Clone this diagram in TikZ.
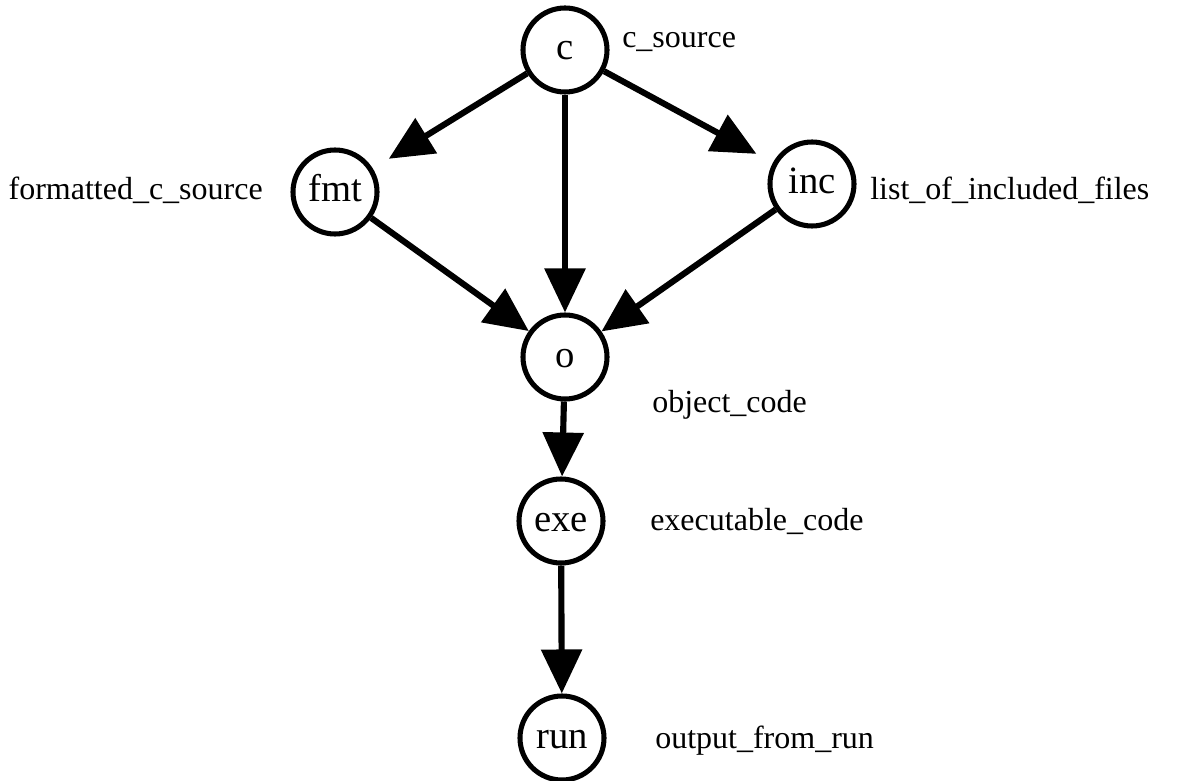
\documentclass[tikz,border=0pt]{standalone}
\usepackage{fontspec}
\setmainfont{Liberation Serif}
\usetikzlibrary{arrows.meta}
\begin{document}
\begin{tikzpicture}[x=0.75pt,y=-0.75pt,
  fileset/.style={circle,draw,line width=3.8pt,minimum size=63pt,inner sep=0pt,
    text height=15pt,text depth=0pt,font=\fontsize{29}{32}\selectfont},
  caption/.style={font=\fontsize{24}{28}\selectfont,inner sep=0pt},
  depends/.style={line width=4.6pt,-{Triangle[length=33pt,width=30pt]}}]
\useasboundingbox (0,0) rectangle (1178,781);

% file kinds
\node[fileset] (c)   at (565,50)  {c};
\node[fileset] (fmt) at (335,192) {fmt};
\node[fileset] (inc) at (812,184) {inc};
\node[fileset] (o)   at (565,357) {o};
\node[fileset] (exe) at (561,521) {exe};
\node[fileset] (run) at (562,738) {run};

% descriptions
\node[caption,anchor=west] (lc)   at (622,42)  {c\_source};
\node[caption,anchor=east] (lfmt) at (263,190) {formatted\_c\_source};
\node[caption,anchor=west] (linc) at (870,190) {list\_of\_included\_files};
\node[caption,anchor=west] (lo)   at (652,405) {object\_code};
\node[caption,anchor=west] (lexe) at (650,521) {executable\_code};
\node[caption,anchor=west] (lrun) at (655,741) {output\_from\_run};

% derivations
\draw[depends,shorten >=14pt] (c) -- (fmt);
\draw[depends,shorten >=14pt] (c) -- (inc);
\draw[depends] (c) -- (o);
\draw[depends] (fmt) -- (o);
\draw[depends] (inc) -- (o);
\draw[depends] (o) -- (exe);
\draw[depends] (exe) -- (run);
\end{tikzpicture}
\end{document}
